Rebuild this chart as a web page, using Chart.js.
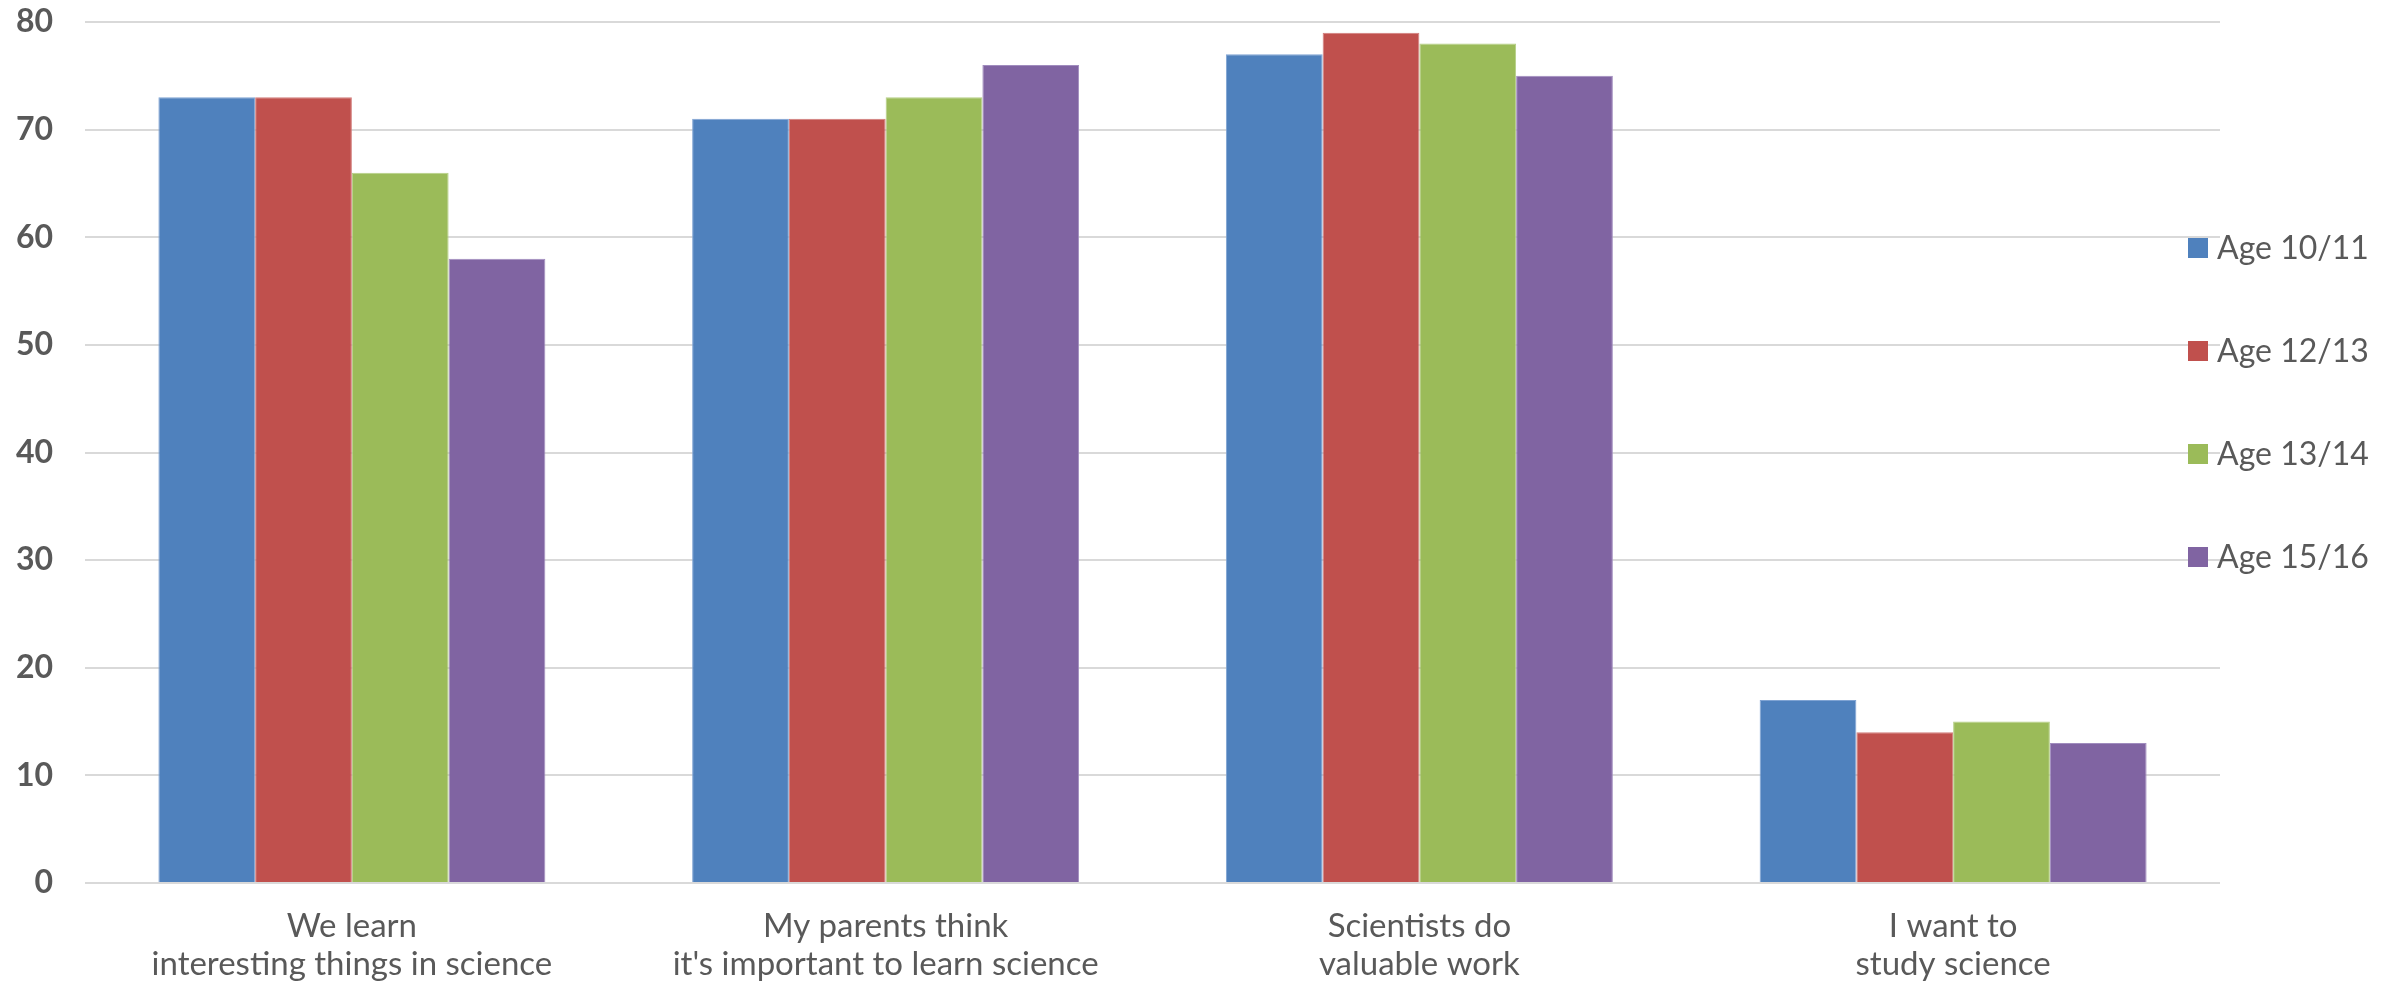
<!DOCTYPE html>
<html>
<head>
<meta charset="utf-8">
<script src="https://cdn.jsdelivr.net/npm/chart.js@4"></script>
<style>
  html, body { margin: 0; padding: 0; background: #fff; }
  #wrap { width: 2392px; height: 985px; }
</style>
</head>
<body>
<div id="wrap"><canvas id="chart" width="2392" height="985"></canvas></div>
<script>
const categories = [
  ['We learn', 'interesting things in science'],
  ['My parents think', "it's important to learn science"],
  ['Scientists do', 'valuable work'],
  ['I want to', 'study science'],
];
const seriesNames = ['Age 10/11', 'Age 12/13', 'Age 13/14', 'Age 15/16'];
const age1011 = [73, 71, 77, 17];
const age1213 = [73, 71, 79, 14];
const age1314 = [66, 73, 78, 15];
const age1516 = [58, 76, 75, 13];
const yTicks = [0, 10, 20, 30, 40, 50, 60, 70, 80];

const fills = ['#4F81BD', '#C0504D', '#9BBB59', '#8064A2'];
const edges = ['#7FA3D3', '#D27C7A', '#B5CF85', '#A08CBE'];
const textColor = '#595959';
const gridColor = '#D9D9D9';

let ctx = document.getElementById('chart');

// legend drawn by hand so it can sit over the right end of the gridlines
const sideLegend = {
  id: 'sideLegend',
  afterDraw(chart) {
    const c = chart.ctx;
    const area = chart.chartArea;
    const x = area.right - 32;
    const top = 248;
    const step = 103;
    c.save();
    c.font = '32px Lato';
    c.textBaseline = 'middle';
    c.textAlign = 'left';
    chart.data.datasets.forEach((ds, i) => {
      const y = top + i * step;
      c.fillStyle = ds.backgroundColor;
      c.fillRect(x, y - 10, 20, 20);
      c.fillStyle = textColor;
      c.fillText(ds.label, x + 29, y + 1);
    });
    c.restore();
  },
};

let data = {
  labels: categories,
  datasets: [age1011, age1213, age1314, age1516].map((vals, i) => ({
    label: seriesNames[i],
    data: vals,
    backgroundColor: fills[i],
    borderColor: edges[i],
    borderWidth: 1,
    categoryPercentage: 0.725,
    barPercentage: 1.0,
  })),
};

let chart = new Chart(ctx, {
  type: 'bar',
  data: data,
  plugins: [sideLegend],
  options: {
    responsive: false,
    animation: false,
    devicePixelRatio: 1,
    layout: { padding: { top: 22, right: 172, bottom: 0, left: 0 } },
    plugins: {
      legend: { display: false },
      tooltip: { enabled: false },
    },
    scales: {
      x: {
        grid: { display: false, drawTicks: false },
        border: { display: false },
        ticks: {
          color: textColor,
          font: { family: 'Lato', size: 33, lineHeight: 1.15 },
          padding: 24,
          maxRotation: 0,
          autoSkip: false,
        },
        afterFit(scale) { scale.height = 102; },
      },
      y: {
        min: 0,
        max: 80,
        afterBuildTicks(scale) { scale.ticks = yTicks.map(v => ({ value: v })); },
        grid: { color: gridColor, lineWidth: 2, drawTicks: false },
        border: { display: false },
        ticks: {
          color: textColor,
          font: { family: 'Lato', size: 32, weight: 'bold' },
          padding: 32,
        },
        afterFit(scale) {
          scale.width = 85;
          scale.paddingTop = 0;
          scale.paddingBottom = 0;
        },
      },
    },
  },
});
</script>
</body>
</html>
